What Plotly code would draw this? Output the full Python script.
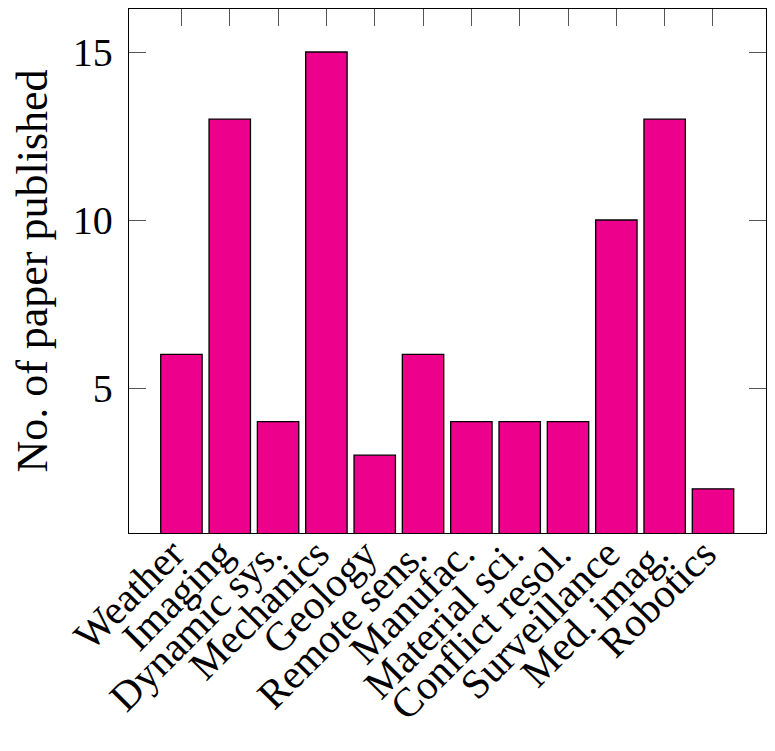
import plotly.graph_objects as go

# categories and counts
categories = ["Weather", "Imaging", "Dynamic sys.", "Mechanics", "Geology",
              "Remote sens.", "Manufac.", "Material sci.", "Conflict resol.",
              "Surveillance", "Med. imag.", "Robotics"]
papers = [6, 13, 4, 15, 3, 6, 4, 4, 4, 10, 13, 2]
y_ticks = [5, 10, 15]

positions = list(range(len(categories)))
serif = "Liberation Serif, DejaVu Serif, serif"

fig = go.Figure()

fig.add_trace(go.Bar(
    x=positions, y=papers, width=0.857,
    marker=dict(color="#EC008C", line=dict(color="black", width=1.3)),
))

# rotated category labels, right end hung just under each bar
for pos, name in zip(positions, categories):
    fig.add_annotation(
        x=pos, xref="x", y=0, yref="paper",
        text=name, textangle=-45, showarrow=False,
        xanchor="right", yanchor="top", xshift=15, yshift=6,
        font=dict(family=serif, size=41, color="black"),
    )

# page is shown with an 8px body margin, so the figure is sized to fit
fig.update_layout(
    width=759, height=751,
    margin=dict(l=121, r=1, t=1, b=226),
    plot_bgcolor="white", paper_bgcolor="white",
    showlegend=False,
    font=dict(family=serif, size=38, color="black"),
)

fig.update_xaxes(
    range=[-1.085, 12.097], automargin=False,
    tickvals=positions, showticklabels=False,
    ticks="inside", ticklen=17, tickcolor="#555", tickwidth=1,
    showline=True, linecolor="black", linewidth=1.3, mirror="ticks",
    showgrid=False, zeroline=False, layer="below traces",
)
fig.update_yaxes(
    range=[0.685, 16.28], automargin=True,
    tickvals=y_ticks, ticklabelstandoff=7,
    ticks="inside", ticklen=17, tickcolor="#555", tickwidth=1,
    showline=True, linecolor="black", linewidth=1.3, mirror="ticks",
    showgrid=False, zeroline=False,
    title=dict(text="No. of paper published", standoff=30, font=dict(size=44)),
    tickfont=dict(size=40),
)

fig.write_html("out.html")
